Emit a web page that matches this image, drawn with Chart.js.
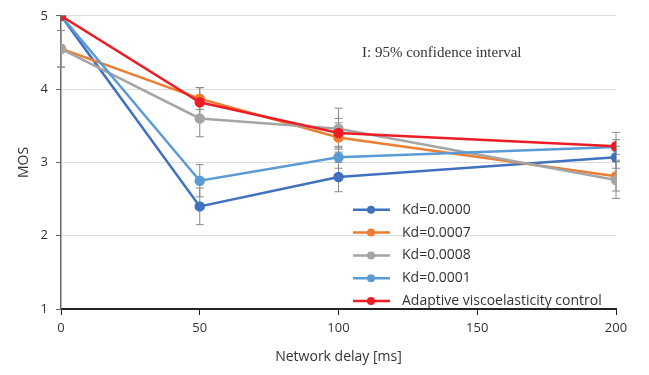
<!DOCTYPE html>
<html>
<head>
<meta charset="utf-8">
<script src="https://cdn.jsdelivr.net/npm/chart.js@4.4.1/dist/chart.umd.min.js"></script>
<style>
  html, body { margin: 0; padding: 0; background: #fff; }
  #wrap { position: relative; width: 649px; height: 375px; }
</style>
</head>
<body>
<div id="wrap"><canvas id="mosChart"></canvas></div>
<script>
const delays = [0, 50, 100, 200];
const seriesLabels = ['Kd=0.0000', 'Kd=0.0007', 'Kd=0.0008', 'Kd=0.0001', 'Adaptive viscoelasticity control'];
const mosKd0000 = [5.00, 2.40, 2.80, 3.07];
const mosKd0007 = [4.55, 3.87, 3.34, 2.81];
const mosKd0008 = [4.55, 3.60, 3.46, 2.76];
const mosKd0001 = [5.00, 2.75, 3.07, 3.21];
const mosAdaptive = [5.00, 3.82, 3.40, 3.22];
const errKd0000 = [0, 0.25, 0.20, 0.15];
const errKd0007 = [0.25, 0.15, 0.20, 0.20];
const errKd0008 = [0.25, 0.25, 0.28, 0.25];
const errKd0001 = [0, 0.22, 0.15, 0.10];
const errAdaptive = [0, 0.20, 0.20, 0.19];
const xTicks = [0, 50, 100, 150, 200];
const yTicks = [1, 2, 3, 4, 5];

const colors = ['#4070BE', '#ED7D31', '#A5A5A5', '#5B9BD5', '#EE1C25'];
const allMos = [mosKd0000, mosKd0007, mosKd0008, mosKd0001, mosAdaptive];
const allErr = [errKd0000, errKd0007, errKd0008, errKd0001, errAdaptive];

const datasets = allMos.map((vals, i) => ({
    label: seriesLabels[i],
    data: vals.map((v, j) => ({ x: delays[j], y: v, err: allErr[i][j] })),
    borderColor: colors[i],
    backgroundColor: colors[i],
    pointBackgroundColor: colors[i],
    pointBorderColor: colors[i],
    pointRadius: 4,
    borderWidth: 2.5,
    tension: 0,
    order: i === 4 ? 0 : 5 - i
}));

// error bars, drawn before the lines
const errorBars = {
    id: 'errorBars',
    beforeDatasetsDraw(chart) {
        const { ctx, scales: { x, y } } = chart;
        ctx.save();
        ctx.strokeStyle = '#8a8a8a';
        ctx.lineWidth = 1;
        chart.data.datasets.forEach(ds => {
            ds.data.forEach(p => {
                if (!p.err) return;
                const px = x.getPixelForValue(p.x);
                const top = y.getPixelForValue(p.y + p.err);
                const bot = y.getPixelForValue(p.y - p.err);
                ctx.beginPath();
                ctx.moveTo(px, top); ctx.lineTo(px, bot);
                ctx.moveTo(px - 4, top); ctx.lineTo(px + 4, top);
                ctx.moveTo(px - 4, bot); ctx.lineTo(px + 4, bot);
                ctx.stroke();
            });
        });
        ctx.restore();
    }
};

// legend inside the plot + the confidence note
const innerLegend = {
    id: 'innerLegend',
    afterDraw(chart) {
        const { ctx, chartArea } = chart;
        ctx.save();
        const x0 = chartArea.left + 292;
        let yy = chartArea.top + 194;
        chart.data.datasets.forEach(ds => {
            ctx.strokeStyle = ds.borderColor;
            ctx.fillStyle = ds.borderColor;
            ctx.lineWidth = 2.5;
            ctx.beginPath();
            ctx.moveTo(x0, yy); ctx.lineTo(x0 + 37, yy);
            ctx.stroke();
            ctx.beginPath();
            ctx.arc(x0 + 18, yy, 4, 0, Math.PI * 2);
            ctx.fill();
            ctx.fillStyle = '#333';
            ctx.font = '14px "Open Sans", sans-serif';
            ctx.textBaseline = 'middle';
            ctx.fillText(ds.label, x0 + 49, yy);
            yy += 22.8;
        });
        ctx.font = '15px "Liberation Serif", serif';
        ctx.fillStyle = '#333';
        ctx.textBaseline = 'middle';
        ctx.fillText('I: 95% confidence interval', chartArea.left + 301, chartArea.top + 37);
        ctx.restore();
    }
};

const ctx = document.getElementById('mosChart').getContext('2d');
new Chart(ctx, {
    type: 'line',
    data: { datasets },
    options: {
        responsive: true,
        maintainAspectRatio: false,
        animation: false,
        layout: { padding: { top: 7, right: 33, left: 0, bottom: 0 } },
        scales: {
            x: {
                type: 'linear',
                min: 0,
                max: 200,
                afterBuildTicks: (scale) => { scale.ticks = xTicks.map(v => ({ value: v })); },
                afterFit: (scale) => { scale.height = 66; },
                grid: { drawOnChartArea: false, drawTicks: true, tickLength: 6, color: '#222' },
                border: { color: '#222', width: 2 },
                ticks: { color: '#333', font: { size: 13, family: '"Open Sans", sans-serif' }, padding: 5 },
                title: {
                    display: true,
                    text: 'Network delay [ms]',
                    color: '#333',
                    font: { size: 14, family: '"Open Sans", sans-serif' },
                    padding: { top: 0, bottom: 10 }
                }
            },
            y: {
                min: 1,
                max: 5,
                afterBuildTicks: (scale) => { scale.ticks = yTicks.map(v => ({ value: v })); },
                afterFit: (scale) => { scale.width = 61; },
                grid: { color: '#dedede', tickColor: '#666', tickLength: 5, drawTicks: true },
                border: { color: '#666', width: 1.5 },
                ticks: { color: '#333', font: { size: 13, family: '"Open Sans", sans-serif' }, padding: 8 },
                title: {
                    display: true,
                    text: 'MOS',
                    color: '#333',
                    font: { size: 14, family: '"Open Sans", sans-serif' },
                    padding: { top: 16, bottom: 0 }
                }
            }
        },
        plugins: {
            legend: { display: false },
            tooltip: { enabled: false }
        }
    },
    plugins: [errorBars, innerLegend]
});
</script>
</body>
</html>
